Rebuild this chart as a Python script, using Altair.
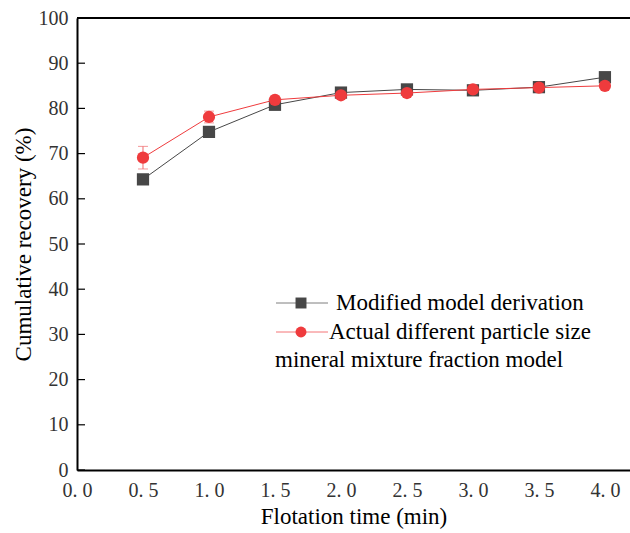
import altair as alt
import pandas as pd

times = [0.5, 1.0, 1.5, 2.0, 2.5, 3.0, 3.5, 4.0]
modified = [64.3, 74.8, 80.8, 83.5, 84.2, 84.0, 84.7, 86.9]
actual = [69.1, 78.1, 81.9, 82.9, 83.4, 84.2, 84.6, 85.0]
actual_err = [2.5, 1.3, 0.5, 0.3, 0.3, 0.3, 0.3, 0.3]
series_names = ["Modified model derivation", "Actual different particle size"]
extra_legend_line = "mineral mixture fraction model"
x_ticks = [0.0, 0.5, 1.0, 1.5, 2.0, 2.5, 3.0, 3.5, 4.0]
y_ticks = [0, 10, 20, 30, 40, 50, 60, 70, 80, 90, 100]

GRAY = "#474747"
RED = "#ef3b3d"
COLORS = [GRAY, RED]
SHAPES = ["square", "circle"]
FONT = "Liberation Serif, Times New Roman, Times, serif"

rows = []
for t, v in zip(times, modified):
    rows.append({"t": t, "v": v, "s": series_names[0], "lo": None, "hi": None})
for t, v, e in zip(times, actual, actual_err):
    rows.append({"t": t, "v": v, "s": series_names[1], "lo": v - e, "hi": v + e})
df = pd.DataFrame(rows)
err_df = df[df["s"] == series_names[1]]

xscale = alt.Scale(domain=[0, 4.19], nice=False)
yscale = alt.Scale(domain=[0, 100], nice=False)
cscale = alt.Scale(domain=series_names, range=COLORS)
sscale = alt.Scale(domain=series_names, range=SHAPES)

xaxis = alt.Axis(values=x_ticks, ticks=False, grid=False, domainColor="black",
                 domainWidth=2, labelFont=FONT, labelFontSize=20, labelColor="#333",
                 labelPadding=10, labelFlush=False,
                 labelExpr="replace(format(datum.value, '.1f'), '.', '. ')",
                 title="Flotation time (min)", titleFont=FONT, titleFontSize=23,
                 titleFontWeight="normal", titleColor="black", titlePadding=5)
yaxis = alt.Axis(values=y_ticks, ticks=False, grid=False, domainColor="black",
                 domainWidth=2, labelFont=FONT, labelFontSize=20, labelColor="#333",
                 labelPadding=9, labelFlush=False, title="Cumulative recovery (%)",
                 titleFont=FONT, titleFontSize=23, titleFontWeight="normal",
                 titleColor="black", titlePadding=3)

base = alt.Chart(df)

lines = base.mark_line(strokeWidth=1).encode(
    x=alt.X("t:Q", scale=xscale, axis=xaxis),
    y=alt.Y("v:Q", scale=yscale, axis=yaxis),
    color=alt.Color("s:N", scale=cscale, legend=None),
    order="t:Q",
)

err_rule = alt.Chart(err_df).mark_rule(color="#f06a6c", strokeWidth=1).encode(
    x="t:Q", y="lo:Q", y2="hi:Q")
err_cap = alt.Chart(err_df).mark_tick(color="#f06a6c", thickness=1, size=10,
                                      orient="horizontal").encode(x="t:Q", y="lo:Q")
err_cap2 = alt.Chart(err_df).mark_tick(color="#f06a6c", thickness=1, size=10,
                                       orient="horizontal").encode(x="t:Q", y="hi:Q")

points = base.mark_point(filled=True, opacity=1).encode(
    x="t:Q", y="v:Q",
    color=alt.Color("s:N", scale=cscale, legend=None),
    shape=alt.Shape("s:N", scale=sscale, legend=None),
    size=alt.value(150),
)

# Manual legend (inside the plot area)
leg_layers = []
LX = 199
ROWS_Y = [285, 314, 342]
TEXT_X = [259, 252]
for i, name in enumerate(series_names):
    one = alt.Chart(pd.DataFrame({"s": [name]}))
    yy = ROWS_Y[i]
    leg_layers.append(one.mark_rule(color=COLORS[i], strokeWidth=1, opacity=0.7).encode(
        x=alt.value(LX), x2=alt.value(LX + 52), y=alt.value(yy)))
    leg_layers.append(one.mark_point(filled=True, opacity=1, color=COLORS[i],
                                     shape=SHAPES[i], size=120).encode(
        x=alt.value(LX + 25), y=alt.value(yy)))
    leg_layers.append(one.mark_text(font=FONT, fontSize=23, align="left",
                                    baseline="middle", color="black").encode(
        x=alt.value(TEXT_X[i]), y=alt.value(yy), text="s:N"))

txt = alt.Chart(pd.DataFrame({"t": [extra_legend_line]})).mark_text(
    font=FONT, fontSize=23, align="left", baseline="middle", color="black").encode(
    x=alt.value(LX - 1), y=alt.value(ROWS_Y[2]), text="t:N")

yt = alt.Chart(pd.DataFrame({"v": y_ticks})).mark_rule(color="black", strokeWidth=1.2).encode(
    x=alt.value(0), x2=alt.value(8), y="v:Q")

top = alt.Chart(pd.DataFrame({"v": [100]})).mark_rule(color="black", strokeWidth=2).encode(
    y="v:Q")

chart = alt.layer(lines, err_rule, err_cap, err_cap2, points, yt, top, *leg_layers, txt).properties(
    width=553, height=452,
    autosize=alt.AutoSizeParams(type="none"),
    padding={"left": 77, "top": 18, "right": 0, "bottom": 63},
).configure_view(stroke=None).configure(background="white")

chart.save("out.html", embed_options={"renderer": "svg", "actions": False})
